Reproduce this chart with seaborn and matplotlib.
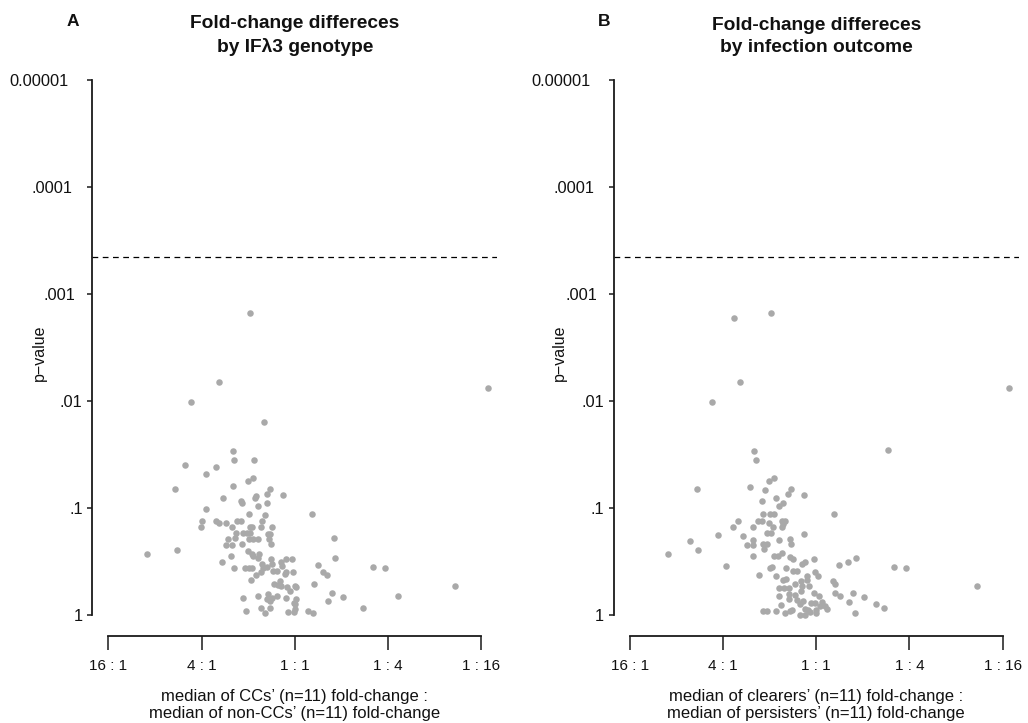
import matplotlib
matplotlib.use("Agg")
import matplotlib.pyplot as plt
import matplotlib.transforms as mtransforms
import seaborn as sns
import pandas as pd

# ---- data: x = log2 fold-change ratio, y = -log10(p-value) ----
geno_log2_ratio = [-0.96, -1.62, 4.15, -2.23, -0.65, -1.32, -1.30, -0.87, -2.35, -1.69, -1.90, -0.90, -1.01, -1.32,
                   -2.56, -0.54, -0.26, -0.60, -0.84, -0.85, -1.54, -1.15, -1.14, -0.59, -0.79, -1.90, 0.38, -0.98,
                   -0.63, -2.00, -1.69, -1.63, -1.47, -1.24, -1.16, -0.70, -2.02, -1.35, -0.96, -0.91, -0.73, -0.48,
                   -1.27, -1.11, -1.03, -0.95, -0.58, -0.52, 0.85, -1.43, -1.29, -0.99, -0.89, -0.79, -0.56, -1.47,
                   -1.34, -1.13, -0.51, -3.18, -2.52, -1.00, -0.91, -0.77, -0.89, -1.36, 0.86, -0.79, -0.51, -0.19,
                   -0.05, -0.29, -1.57, -0.71, -0.49, -0.27, 0.49, 1.68, 1.93, -1.30, -1.06, -0.99, -0.92, -0.67,
                   -0.60, -0.47, -0.39, -0.72, -0.19, -0.03, -0.21, 0.61, 0.69, -0.84, -0.94, -0.32, -0.45, -0.36,
                   -0.29, -0.16, 0.01, 0.03, 0.41, 3.45, -0.10, 0.79, -0.57, -0.79, -0.39, 2.22, -1.11, -0.59,
                   -0.48, -0.19, 0.03, 1.04, -0.53, -0.02, 0.71, 0.01, -0.72, -0.52, 0.00, 1.47, -1.05, -0.64,
                   -0.14, -0.01, 0.29, 0.39]
geno_neglog10_p = [2.82, 2.18, 2.12, 1.99, 1.80, 1.53, 1.45, 1.45, 1.40, 1.38, 1.32, 1.28, 1.25, 1.21, 1.18, 1.18,
                   1.12, 1.13, 1.11, 1.09, 1.09, 1.07, 1.05, 1.05, 1.02, 0.99, 0.94, 0.94, 0.93, 0.88, 0.88, 0.86,
                   0.86, 0.88, 0.88, 0.88, 0.82, 0.82, 0.82, 0.82, 0.82, 0.82, 0.77, 0.77, 0.77, 0.77, 0.76, 0.76,
                   0.72, 0.71, 0.72, 0.71, 0.71, 0.71, 0.71, 0.65, 0.65, 0.66, 0.66, 0.57, 0.61, 0.60, 0.57, 0.57,
                   0.55, 0.55, 0.53, 0.53, 0.52, 0.52, 0.52, 0.50, 0.50, 0.48, 0.48, 0.46, 0.47, 0.45, 0.44, 0.44,
                   0.44, 0.44, 0.44, 0.44, 0.45, 0.41, 0.41, 0.40, 0.40, 0.40, 0.38, 0.40, 0.37, 0.37, 0.33, 0.32,
                   0.29, 0.28, 0.27, 0.26, 0.27, 0.26, 0.29, 0.27, 0.22, 0.21, 0.20, 0.18, 0.18, 0.18, 0.16, 0.15,
                   0.16, 0.16, 0.15, 0.17, 0.13, 0.11, 0.13, 0.10, 0.07, 0.07, 0.06, 0.07, 0.04, 0.02, 0.03, 0.03,
                   0.04, 0.02]

outc_log2_ratio = [-0.97, -1.77, -1.64, 4.14, -2.23, -1.33, 1.53, -1.30, -0.91, -1.02, -1.43, -2.57, -1.10, -0.55,
                   -0.61, -0.26, -0.86, -1.16, -0.72, -0.79, 0.37, -1.15, -0.99, -0.91, -1.69, -1.26, -1.17, -1.02,
                   -0.74, -0.67, -0.72, -1.78, -1.35, -0.93, -0.74, -1.06, -0.97, -0.27, -2.12, -1.57, -2.72, -1.36,
                   -0.79, -0.56, -1.48, -1.35, -1.14, -1.06, -0.54, -1.12, -2.53, -3.19, -1.36, -0.91, -0.83, -0.74,
                   -0.57, -0.51, -0.06, 0.85, 0.69, -0.25, -0.30, 0.48, -1.93, 1.67, 1.92, -0.99, -0.94, -0.65,
                   -0.49, -0.41, -0.03, -1.23, -0.86, -0.21, 0.04, -0.71, -0.64, -0.32, -0.21, 0.36, -0.45, -0.30,
                   -0.16, 0.41, 3.44, -0.81, -0.69, -0.59, -0.33, -0.06, 0.41, 0.51, 0.79, -0.58, -0.46, 0.06,
                   -0.80, 1.03, -0.59, -0.42, -0.28, -0.11, -0.03, 0.12, 0.70, -0.36, -0.76, 0.08, 0.19, 0.24,
                   1.28, 1.45, -0.24, -0.18, -0.01, -0.53, -1.15, -1.06, -0.86, -0.56, -0.67, -0.14, -0.01, -0.36,
                   -0.24, 0.84]
outc_neglog10_p = [2.82, 2.78, 2.18, 2.12, 1.99, 1.53, 1.54, 1.45, 1.28, 1.25, 1.20, 1.18, 1.17, 1.18, 1.13, 1.12,
                   1.09, 1.07, 1.05, 1.02, 0.94, 0.94, 0.94, 0.94, 0.88, 0.88, 0.88, 0.86, 0.88, 0.88, 0.85, 0.82,
                   0.82, 0.82, 0.82, 0.77, 0.77, 0.76, 0.75, 0.74, 0.69, 0.70, 0.70, 0.71, 0.65, 0.65, 0.66, 0.66,
                   0.66, 0.62, 0.61, 0.57, 0.55, 0.55, 0.55, 0.58, 0.54, 0.52, 0.52, 0.53, 0.50, 0.50, 0.48, 0.47,
                   0.46, 0.45, 0.44, 0.44, 0.45, 0.44, 0.41, 0.41, 0.40, 0.37, 0.36, 0.36, 0.36, 0.33, 0.34, 0.32,
                   0.33, 0.32, 0.29, 0.27, 0.27, 0.29, 0.27, 0.25, 0.25, 0.25, 0.22, 0.21, 0.21, 0.18, 0.21, 0.20,
                   0.19, 0.18, 0.18, 0.17, 0.15, 0.14, 0.13, 0.11, 0.11, 0.12, 0.12, 0.10, 0.09, 0.08, 0.08, 0.06,
                   0.10, 0.07, 0.06, 0.05, 0.05, 0.05, 0.04, 0.04, 0.04, 0.04, 0.02, 0.03, 0.02, 0.00, 0.00, 0.02]

threshold_neglog10_p = 3.347          # Bonferroni cut-off (p ~ 0.00045)

x_tick_values = [-4, -2, 0, 2, 4]
x_tick_labels = ["16 : 1", "4 : 1", "1 : 1", "1 : 4", "1 : 16"]
y_tick_values = [0, 1, 2, 3, 4, 5]
y_tick_labels = ["1", ".1", ".01", ".001", ".0001", "0.00001"]

panel_letters = ["A", "B"]
panel_titles = ["Fold-change differeces\nby IF\u03bb3 genotype",
                "Fold-change differeces\nby infection outcome"]
panel_xlabels = ["median of CCs\u2019 (n=11) fold-change :\nmedian of non-CCs\u2019 (n=11) fold-change",
                 "median of clearers\u2019 (n=11) fold-change :\nmedian of persisters\u2019 (n=11) fold-change"]
y_label = "p\u2212value"

# ---- style ----
sns.set_style("ticks")
plt.rcParams["font.family"] = ["Liberation Sans", "DejaVu Sans"]

W, H = 1028, 723
fig = plt.figure(figsize=(W / 100, H / 100), dpi=100)

ax_left_px = [92.0, 613.6]
ax_w_px = 405.4
ax_top_px, ax_bot_px = 80.0, 636.4
letter_x_px = [73, 604]
ylabel_right_px = [47, 567]
# horizontal nudges (px) of the y tick labels, as set in the original
ytick_nudge_px = [1, 1, 1, -6, -9, -13]

panels = [
    pd.DataFrame({"log2ratio": geno_log2_ratio, "neglogp": geno_neglog10_p}),
    pd.DataFrame({"log2ratio": outc_log2_ratio, "neglogp": outc_neglog10_p}),
]

spine_col = "#1a1a1a"
text_col = "#111111"
for i, df in enumerate(panels):
    ax = fig.add_axes([ax_left_px[i] / W, (H - ax_bot_px) / H, ax_w_px / W, (ax_bot_px - ax_top_px) / H])
    sns.scatterplot(data=df, x="log2ratio", y="neglogp", ax=ax, color="#a9a9a9",
                    s=22, linewidth=0, legend=False, zorder=3)
    ax.axhline(threshold_neglog10_p, color="black", lw=0.9, linestyle=(0, (4.6, 3.6)), zorder=2)
    ax.set_xlim(-4.35, 4.35)
    ax.set_ylim(-0.2, 5.0)
    ax.set_xticks(x_tick_values)
    ax.set_xticklabels(x_tick_labels, fontsize=11)
    ax.set_yticks(y_tick_values)
    ax.set_yticklabels(y_tick_labels, fontsize=11.8)
    for side in ("top", "right"):
        ax.spines[side].set_visible(False)
    ax.spines["left"].set_bounds(0, 5)
    ax.spines["bottom"].set_bounds(-4, 4)
    for side in ("left", "bottom"):
        ax.spines[side].set_linewidth(1.3)
        ax.spines[side].set_color(spine_col)
    ax.tick_params(axis="x", length=10, width=1.1, pad=6, colors=spine_col, labelcolor=text_col)
    ax.tick_params(axis="y", length=3.5, width=1.1, pad=4, colors=spine_col, labelcolor=text_col)
    for lab, dx in zip(ax.get_yticklabels(), ytick_nudge_px):
        lab.set_transform(lab.get_transform() +
                          mtransforms.ScaledTranslation(dx / 100, 0, fig.dpi_scale_trans))
    ax.set_xlabel(panel_xlabels[i], fontsize=12, labelpad=11.5, color=text_col, linespacing=1.2)
    ax.set_ylabel(y_label, fontsize=11.5, color=text_col)
    ax.yaxis.set_label_coords((ylabel_right_px[i] - ax_left_px[i]) / ax_w_px, 0.51)
    ax.set_title(panel_titles[i], fontsize=13.8, fontweight="bold", pad=20, color=text_col,
                 linespacing=1.42)
    ax.grid(False)
    fig.text(letter_x_px[i] / W, 1 - 21 / H, panel_letters[i], fontsize=12.5, fontweight="bold",
             ha="center", va="center", color=text_col)

fig.savefig("out.png", dpi=100, facecolor="white")
